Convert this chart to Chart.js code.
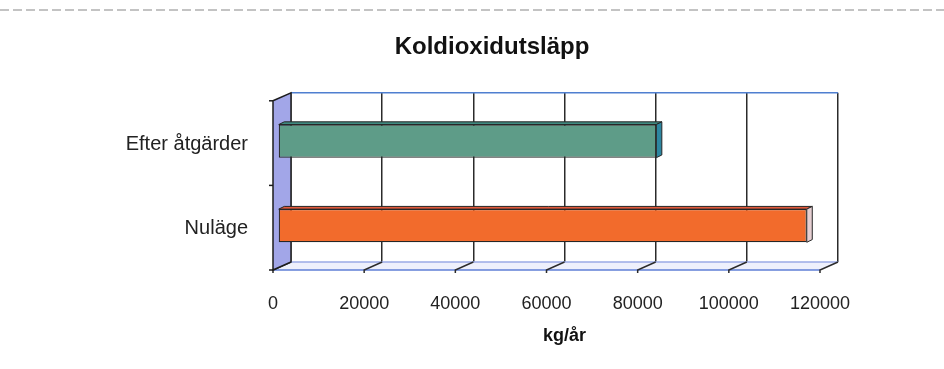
<!DOCTYPE html>
<html lang="sv">
<head>
  <meta charset="utf-8">
  <script src="https://cdn.jsdelivr.net/npm/chart.js@4.4.1/dist/chart.umd.min.js"></script>
  <style>
    html, body { margin: 0; padding: 0; background: #ffffff; }
    .wrap { width: 944px; height: 369px; }
  </style>
</head>
<body>
  <div class="wrap"><canvas id="co2Chart" width="944" height="369"></canvas></div>

  <script>
    // data
    const categories = ['Efter åtgärder', 'Nuläge'];
    const emissions = [83000, 116000];
    const xTicks = [0, 20000, 40000, 60000, 80000, 100000, 120000];

    const barFront = ['#5e9c88', '#f26b2c'];
    const barTop = ['#3f8a80', '#e0583a'];
    const barSide = ['#2d86a0', '#e6cfd2'];

    // depth of the 3D box (back wall -> front edge)
    const DEPTH_X = 18, DEPTH_Y = 8;
    // bar front and back face offsets from the back wall
    const BAR_FRONT = [-13, 6], BAR_BACK = [-7.5, 3.3];

    const box3d = {
      id: 'box3d',
      beforeDraw(chart) {
        const c = chart.ctx;
        c.save();
        c.strokeStyle = 'rgba(110,110,110,0.55)';
        c.lineWidth = 1.5;
        c.setLineDash([9, 4]);
        c.beginPath();
        c.moveTo(0, 10);
        c.lineTo(chart.width, 10);
        c.stroke();
        c.restore();
      },
      beforeDatasetsDraw(chart) {
        const c = chart.ctx;
        const a = chart.chartArea;
        const xs = chart.scales.x;
        c.save();
        // floor
        c.fillStyle = '#eef0fc';
        c.beginPath();
        c.moveTo(a.left, a.bottom);
        c.lineTo(a.right, a.bottom);
        c.lineTo(a.right - DEPTH_X, a.bottom + DEPTH_Y);
        c.lineTo(a.left - DEPTH_X, a.bottom + DEPTH_Y);
        c.closePath();
        c.fill();
        c.lineWidth = 1.5;
        c.strokeStyle = '#9aaae6';
        c.beginPath();
        c.moveTo(a.left, a.bottom);
        c.lineTo(a.right, a.bottom);
        c.stroke();
        c.strokeStyle = '#5f7fd6';
        c.beginPath();
        c.moveTo(a.left - DEPTH_X, a.bottom + DEPTH_Y);
        c.lineTo(a.right - DEPTH_X, a.bottom + DEPTH_Y);
        c.stroke();
        // grid lines running over the floor
        c.strokeStyle = '#2b2b2b';
        xs.ticks.forEach(t => {
          const px = xs.getPixelForValue(t.value);
          c.beginPath();
          c.moveTo(px, a.bottom);
          c.lineTo(px - DEPTH_X, a.bottom + DEPTH_Y);
          c.lineTo(px - DEPTH_X, a.bottom + DEPTH_Y + 3);
          c.stroke();
        });
        // top edge of back wall
        c.strokeStyle = '#4f7fd0';
        c.beginPath();
        c.moveTo(a.left, a.top);
        c.lineTo(a.right, a.top);
        c.stroke();
        // side wall
        c.fillStyle = '#a2a6e8';
        c.strokeStyle = '#1c1c1c';
        c.beginPath();
        c.moveTo(a.left - DEPTH_X, a.top + DEPTH_Y);
        c.lineTo(a.left, a.top);
        c.lineTo(a.left, a.bottom);
        c.lineTo(a.left - DEPTH_X, a.bottom + DEPTH_Y);
        c.closePath();
        c.fill();
        c.stroke();
        // small category ticks on the wall edge
        const ys = chart.scales.y;
        [-0.5, 0.5, 1.5].forEach(v => {
          const py = ys.getPixelForValue(v) + DEPTH_Y;
          c.beginPath();
          c.moveTo(a.left - DEPTH_X - 4, py);
          c.lineTo(a.left - DEPTH_X, py);
          c.stroke();
        });
        c.restore();
        // bars: front face drawn by Chart.js, shifted forward
        c.save();
        c.translate(BAR_FRONT[0], BAR_FRONT[1]);
      },
      afterDatasetsDraw(chart) {
        const c = chart.ctx;
        c.restore();
        const meta = chart.getDatasetMeta(0);
        c.save();
        c.lineWidth = 1;
        c.strokeStyle = '#262626';
        meta.data.forEach((bar, i) => {
          const p = bar.getProps(['x', 'y', 'base', 'height'], true);
          const top = p.y - p.height / 2;
          const bottom = p.y + p.height / 2;
          const [fx, fy] = BAR_FRONT;
          const [bx, by] = BAR_BACK;
          // top face
          c.fillStyle = barTop[i];
          c.beginPath();
          c.moveTo(p.base + fx, top + fy);
          c.lineTo(p.x + fx, top + fy);
          c.lineTo(p.x + bx, top + by);
          c.lineTo(p.base + bx, top + by);
          c.closePath();
          c.fill();
          c.stroke();
          // end face
          c.fillStyle = barSide[i];
          c.beginPath();
          c.moveTo(p.x + fx, top + fy);
          c.lineTo(p.x + bx, top + by);
          c.lineTo(p.x + bx, bottom + by);
          c.lineTo(p.x + fx, bottom + fy);
          c.closePath();
          c.fill();
          c.stroke();
        });
        c.restore();
      }
    };

    const fontFam = '"Liberation Sans", Arial, sans-serif';

    new Chart(document.getElementById('co2Chart'), {
      type: 'bar',
      data: {
        labels: categories,
        datasets: [{
          label: 'Koldioxidutsläpp',
          data: emissions,
          backgroundColor: barFront,
          borderColor: '#262626',
          borderWidth: 1.2,
          borderSkipped: false,
          categoryPercentage: 0.8,
          barPercentage: 0.49
        }]
      },
      options: {
        indexAxis: 'y',
        responsive: false,
        animation: false,
        layout: { padding: { left: 120, right: 80, top: 0, bottom: 22 } },
        plugins: {
          legend: { display: false },
          tooltip: { enabled: false },
          title: {
            display: true,
            text: 'Koldioxidutsläpp',
            color: '#111',
            font: { family: fontFam, size: 24, weight: 'bold' },
            padding: { top: 33, bottom: 31 }
          }
        },
        scales: {
          x: {
            min: xTicks[0],
            max: xTicks[xTicks.length - 1],
            afterBuildTicks(scale) {
              scale.ticks = xTicks.map(v => ({ value: v }));
            },
            afterFit(scale) { scale.height = 85; },
            grid: { color: '#2b2b2b', lineWidth: 1.5, drawTicks: false },
            border: { display: false },
            ticks: {
              color: '#222',
              font: { family: fontFam, size: 18 },
              padding: 31,
              labelOffset: -DEPTH_X,
              maxRotation: 0,
              callback: v => String(v)
            },
            title: {
              display: true,
              text: 'kg/år',
              color: '#111',
              font: { family: fontFam, size: 18, weight: 'bold' },
              padding: { top: 12, bottom: 0 }
            }
          },
          y: {
            grid: { display: false, drawTicks: false },
            border: { display: false },
            afterFit(scale) { scale.width = 171; },
            ticks: {
              color: '#222',
              font: { family: fontFam, size: 20 },
              padding: 43,
              labelOffset: 9
            }
          },
          // empty right-hand axis, only keeps the plot box narrower than the title span
          yRight: {
            type: 'category',
            position: 'right',
            grid: { display: false, drawTicks: false },
            border: { display: false },
            ticks: { display: false },
            afterFit(scale) { scale.width = 26; }
          }
        }
      },
      plugins: [box3d]
    });
  </script>
</body>
</html>
